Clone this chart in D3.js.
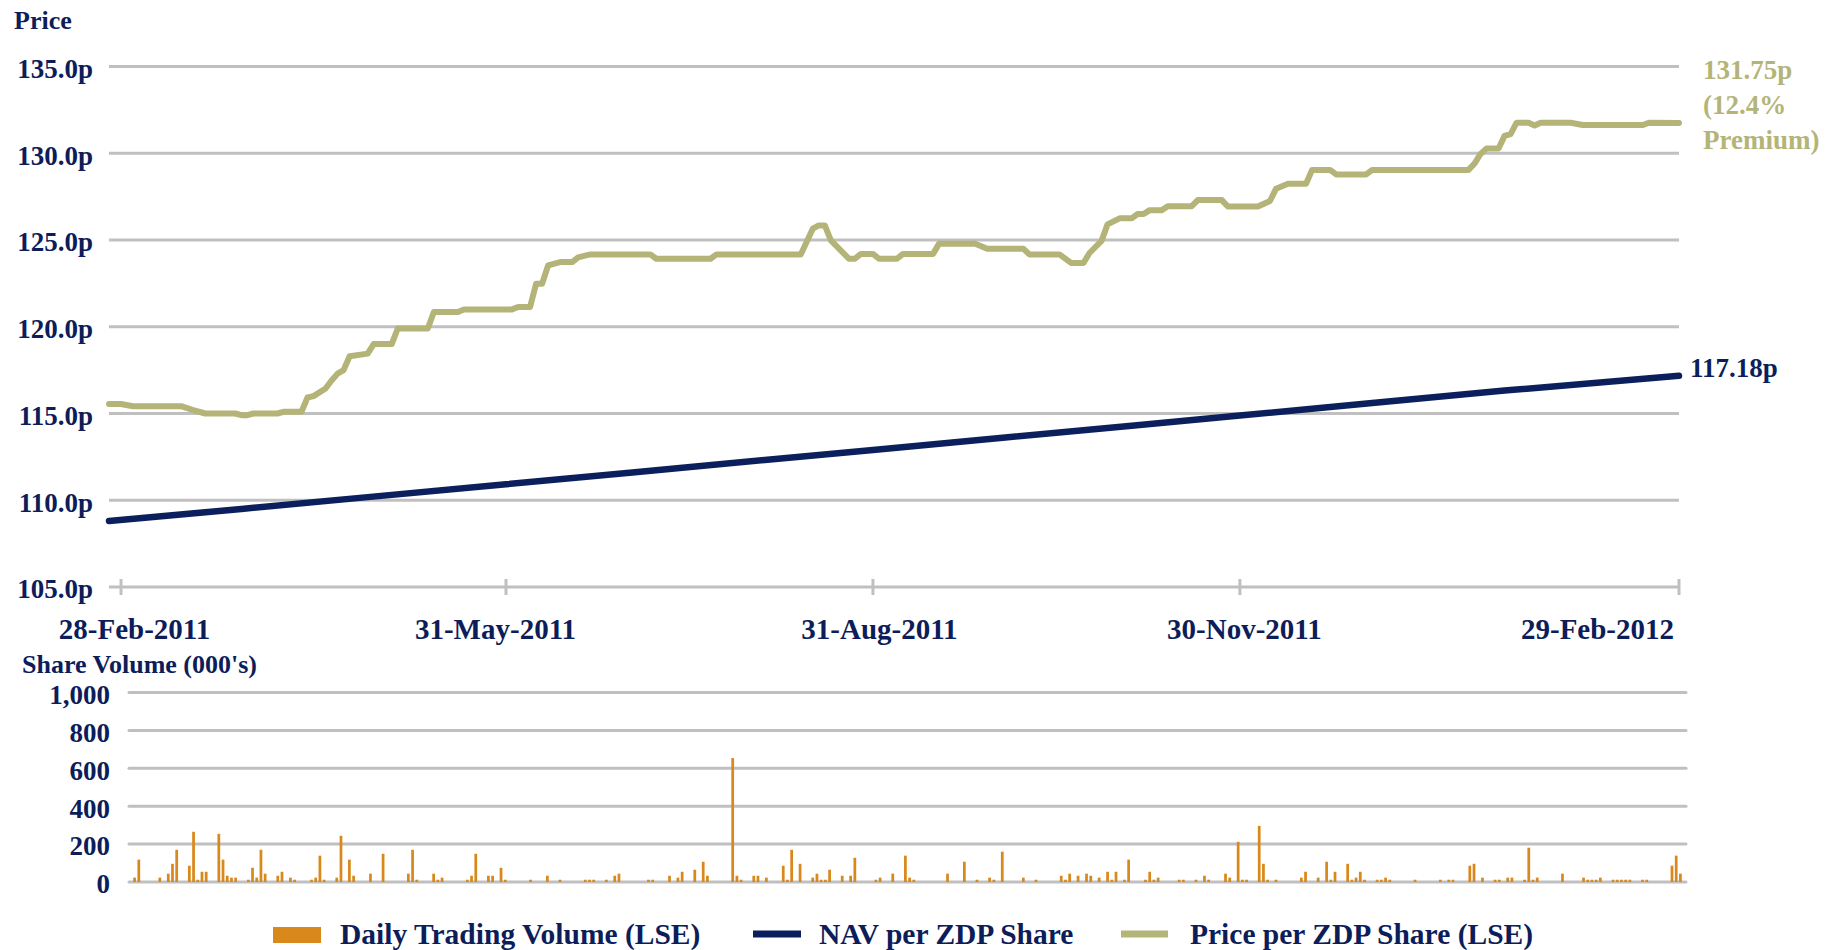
<!DOCTYPE html>
<html>
<head>
<meta charset="utf-8">
<script src="https://cdn.jsdelivr.net/npm/d3@7"></script>
<style>
  body { margin: 0; background: #ffffff; }
  text { font-family: "Liberation Serif", "Times New Roman", serif; font-weight: bold; fill: #0c1d5a; }
</style>
</head>
<body>
<div id="chart"></div>
<script>
// trading-day index axis (0 .. 261), ticks are at these day indices
var tickDays = [2, 66, 127, 188, 261];
var tickLabels = ["28-Feb-2011", "31-May-2011", "31-Aug-2011", "30-Nov-2011", "29-Feb-2012"];

// Price per ZDP share (LSE) at its break points
var priceDays = [0, 2, 4, 12, 14, 16, 21, 22, 23, 24,
    28, 29, 32, 33, 34, 36, 37, 38, 39, 40,
    43, 44, 47, 48, 53, 54, 58, 59, 67, 68,
    70, 71, 72, 73, 75, 77, 78, 80, 90, 91,
    100, 101, 115, 117, 118, 119, 120, 123, 124, 125,
    127, 128, 131, 132, 137, 138, 144, 146, 152, 153,
    158, 160, 162, 163, 165, 166, 168, 170, 171, 172,
    173, 175, 176, 180, 181, 185, 186, 191, 193, 194,
    196, 199, 200, 203, 204, 209, 210, 226, 227, 228,
    229, 231, 232, 233, 234, 236, 237, 238, 243, 245,
    255, 256, 261];
var priceVals = [115.55, 115.55, 115.42, 115.42, 115.2, 115.0, 115.0, 114.9, 114.9, 115.0,
    115.0, 115.1, 115.1, 115.92, 116.0, 116.44, 116.9, 117.3, 117.5, 118.3,
    118.45, 119.0, 119.0, 119.9, 119.9, 120.85, 120.85, 121.0, 121.0, 121.14,
    121.14, 122.48, 122.48, 123.54, 123.73, 123.73, 124.0, 124.17, 124.17, 123.92,
    123.92, 124.17, 124.17, 125.65, 125.84, 125.84, 124.98, 123.92, 123.92, 124.2,
    124.2, 123.92, 123.92, 124.2, 124.2, 124.79, 124.79, 124.5, 124.5, 124.17,
    124.17, 123.67, 123.67, 124.25, 124.95, 125.9, 126.25, 126.25, 126.5, 126.5,
    126.72, 126.72, 126.95, 126.95, 127.3, 127.3, 126.93, 126.93, 127.25, 127.95,
    128.24, 128.24, 129.04, 129.04, 128.78, 128.78, 129.04, 129.04, 129.4, 129.96,
    130.27, 130.27, 131.0, 131.1, 131.76, 131.76, 131.6, 131.76, 131.76, 131.63,
    131.63, 131.76, 131.75];

// NAV per ZDP share
var navDays = [0, 22, 43, 66, 87, 109, 127, 149, 170, 188, 210, 232, 261];
var navVals = [108.80, 109.50, 110.18, 110.92, 111.60, 112.32, 112.90, 113.62, 114.30, 114.88, 115.60, 116.32, 117.18];

// daily trading volume (000's), calendar-day slots 0 .. 369
var volSlots = [1, 2, 7, 9, 10, 11, 14, 15, 16, 17, 18, 21, 22, 23, 24, 25, 28, 29, 30, 31,
    32, 35, 36, 38, 39, 43, 44, 45, 46, 49, 50, 52, 53, 57, 60, 66, 67, 68, 72, 73,
    74, 80, 81, 82, 85, 86, 88, 89, 95, 99, 102, 108, 109, 110, 113, 115, 116, 123, 124, 128,
    130, 131, 134, 136, 137, 143, 144, 145, 148, 149, 151, 155, 156, 157, 159, 162, 163, 164, 165, 166,
    169, 171, 172, 177, 178, 181, 184, 185, 186, 194, 198, 201, 204, 205, 207, 212, 215, 221, 222, 223,
    225, 227, 228, 230, 232, 233, 234, 236, 237, 241, 242, 243, 244, 249, 250, 253, 255, 256, 260, 261,
    263, 264, 265, 268, 269, 270, 272, 278, 279, 282, 284, 285, 286, 289, 290, 291, 292, 293, 296, 297,
    298, 299, 305, 311, 313, 314, 318, 319, 321, 324, 325, 327, 328, 331, 332, 333, 334, 340, 345, 346,
    347, 348, 349, 352, 353, 354, 355, 356, 359, 360, 366, 367, 368];
var volVals = [23, 118, 23, 44, 96, 170, 86, 265, 12, 54, 54, 254, 118, 33, 23, 23, 12, 75, 23, 170,
    44, 33, 54, 23, 12, 12, 23, 139, 12, 23, 244, 118, 33, 44, 149, 44, 170, 12, 44, 12,
    23, 12, 33, 149, 33, 33, 75, 12, 12, 33, 12, 12, 12, 12, 12, 33, 44, 12, 12, 33,
    23, 54, 65, 107, 33, 654, 33, 12, 33, 33, 23, 86, 12, 170, 96, 23, 44, 12, 12, 65,
    33, 33, 128, 12, 23, 44, 139, 23, 12, 44, 107, 12, 23, 12, 160, 23, 12, 33, 12, 44,
    33, 44, 33, 23, 54, 12, 54, 12, 118, 12, 54, 12, 23, 12, 12, 12, 33, 12, 44, 23,
    212, 12, 12, 296, 96, 12, 12, 23, 54, 23, 107, 12, 54, 96, 12, 23, 54, 12, 12, 12,
    23, 12, 12, 12, 12, 12, 86, 96, 23, 12, 12, 23, 23, 12, 181, 12, 23, 44, 23, 12,
    12, 12, 23, 12, 12, 12, 12, 12, 12, 12, 86, 139, 44];

var priceTicks = [105, 110, 115, 120, 125, 130, 135];
var volTicks = [0, 200, 400, 600, 800, 1000];

var navColor = "#0b1f5c";
var priceColor = "#b4b478";
var volColor = "#d9891c";
var gridColor = "#c0c0c0";

var svgWidth = 1847;
var svgHeight = 950;

var svg = d3.select("#chart")
    .append("svg")
    .attr("width", svgWidth)
    .attr("height", svgHeight);

svg.append("rect").attr("width", svgWidth).attr("height", svgHeight).attr("fill", "#ffffff");

// ---------- price chart ----------
var xDay = d3.scaleLinear().domain([0, 261]).range([109, 1679]);
var yPrice = d3.scaleLinear().domain([105, 135]).range([587, 66.5]);

svg.append("g")
    .selectAll("line")
    .data(priceTicks)
    .enter()
    .append("line")
    .attr("x1", 109)
    .attr("x2", 1679)
    .attr("y1", d => yPrice(d))
    .attr("y2", d => yPrice(d))
    .attr("stroke", gridColor)
    .attr("stroke-width", 3);

var leftAxis = d3.axisLeft(yPrice)
    .tickValues(priceTicks)
    .tickFormat(d => d.toFixed(1) + "p")
    .tickSize(0)
    .tickPadding(16);

var yAxis = svg.append("g")
    .attr("transform", "translate(109,0)")
    .call(leftAxis);
yAxis.select(".domain").remove();
yAxis.selectAll("text")
    .attr("dy", "0.4em")
    .style("font-size", "27px")
    .attr("fill", "#0c1d5a");

// tick marks crossing the bottom gridline
svg.append("g")
    .selectAll("line")
    .data(tickDays)
    .enter()
    .append("line")
    .attr("x1", d => xDay(d))
    .attr("x2", d => xDay(d))
    .attr("y1", yPrice(105) - 8)
    .attr("y2", yPrice(105) + 8)
    .attr("stroke", gridColor)
    .attr("stroke-width", 3);

var bottomAxis = d3.axisBottom(xDay)
    .tickValues(tickDays)
    .tickFormat((d, i) => tickLabels[i])
    .tickSize(0)
    .tickPadding(0);

var xAxis = svg.append("g")
    .attr("transform", `translate(0, ${yPrice(105)})`)
    .call(bottomAxis);
xAxis.select(".domain").remove();
// nudge the labels the way the original lays them out
var labelNudge = [13, -11, 6, 4, -82];
xAxis.selectAll("text")
    .attr("y", 52)
    .attr("dy", 0)
    .attr("dx", (d, i) => labelNudge[i])
    .style("font-size", "29px")
    .attr("fill", "#0c1d5a");

svg.append("text")
    .attr("x", 14)
    .attr("y", 29)
    .style("font-size", "26px")
    .text("Price");

var navData = navDays.map((d, i) => ({ day: d, v: navVals[i] }));
var priceData = priceDays.map((d, i) => ({ day: d, v: priceVals[i] }));

var line = d3.line()
    .x(d => xDay(d.day))
    .y(d => yPrice(d.v));

svg.append("path")
    .datum(priceData)
    .attr("d", line)
    .attr("fill", "none")
    .attr("stroke", priceColor)
    .attr("stroke-width", 6)
    .attr("stroke-linejoin", "round")
    .attr("stroke-linecap", "round");

svg.append("path")
    .datum(navData)
    .attr("d", line)
    .attr("fill", "none")
    .attr("stroke", navColor)
    .attr("stroke-width", 6.5)
    .attr("stroke-linecap", "round");

// end-of-line value labels
var lastPrice = priceData[priceData.length - 1];
var lastNav = navData[navData.length - 1];

var priceLabel = svg.append("text")
    .attr("x", xDay(lastPrice.day) + 24)
    .attr("y", yPrice(lastPrice.v) - 44)
    .style("font-size", "27px")
    .style("fill", priceColor);
priceLabel.append("tspan").attr("x", xDay(lastPrice.day) + 24).text(lastPrice.v.toFixed(2) + "p");
priceLabel.append("tspan").attr("x", xDay(lastPrice.day) + 24).attr("dy", 35).text("(12.4%");
priceLabel.append("tspan").attr("x", xDay(lastPrice.day) + 24).attr("dy", 35).text("Premium)");

svg.append("text")
    .attr("x", xDay(lastNav.day) + 11)
    .attr("y", yPrice(lastNav.v) + 1)
    .style("font-size", "27px")
    .style("fill", navColor)
    .text(lastNav.v.toFixed(2) + "p");

// ---------- volume chart ----------
var xVol = d3.scaleBand().domain(d3.range(370)).range([129, 1686]).paddingInner(0.35);
var yVol = d3.scaleLinear().domain([0, 1000]).range([882, 692.5]);

svg.append("g")
    .selectAll("line")
    .data(volTicks)
    .enter()
    .append("line")
    .attr("x1", 129)
    .attr("x2", 1686)
    .attr("y1", d => yVol(d))
    .attr("y2", d => yVol(d))
    .attr("stroke", gridColor)
    .attr("stroke-width", 3)
    .attr("stroke-linecap", "round");

var volAxis = d3.axisLeft(yVol)
    .tickValues(volTicks)
    .tickFormat(d3.format(","))
    .tickSize(0)
    .tickPadding(19);

var vAxis = svg.append("g")
    .attr("transform", "translate(129,0)")
    .call(volAxis);
vAxis.select(".domain").remove();
vAxis.selectAll("text")
    .attr("dy", "0.4em")
    .style("font-size", "27px")
    .attr("fill", "#0c1d5a");

svg.append("text")
    .attr("x", 22)
    .attr("y", 673)
    .style("font-size", "26px")
    .text("Share Volume (000's)");

var volData = volSlots.map((d, i) => ({ slot: d, v: volVals[i] }));

svg.append("g")
    .selectAll("rect")
    .data(volData)
    .enter()
    .append("rect")
    .attr("x", d => xVol(d.slot))
    .attr("width", xVol.bandwidth())
    .attr("y", d => yVol(d.v))
    .attr("height", d => yVol(0) - yVol(d.v))
    .attr("fill", volColor);

// ---------- legend ----------
var legend = svg.append("g").attr("transform", "translate(0, 934)");

legend.append("rect")
    .attr("x", 273).attr("y", -7).attr("width", 48).attr("height", 16)
    .attr("fill", volColor);
legend.append("text").attr("x", 340).attr("y", 10).style("font-size", "29.5px")
    .text("Daily Trading Volume (LSE)");

legend.append("line")
    .attr("x1", 753).attr("x2", 801).attr("y1", 0).attr("y2", 0)
    .attr("stroke", navColor).attr("stroke-width", 7);
legend.append("text").attr("x", 819).attr("y", 10).style("font-size", "29.5px")
    .text("NAV per ZDP Share");

legend.append("line")
    .attr("x1", 1121).attr("x2", 1168).attr("y1", 0).attr("y2", 0)
    .attr("stroke", priceColor).attr("stroke-width", 7);
legend.append("text").attr("x", 1190).attr("y", 10).style("font-size", "29.5px")
    .text("Price per ZDP Share (LSE)");
</script>
</body>
</html>
